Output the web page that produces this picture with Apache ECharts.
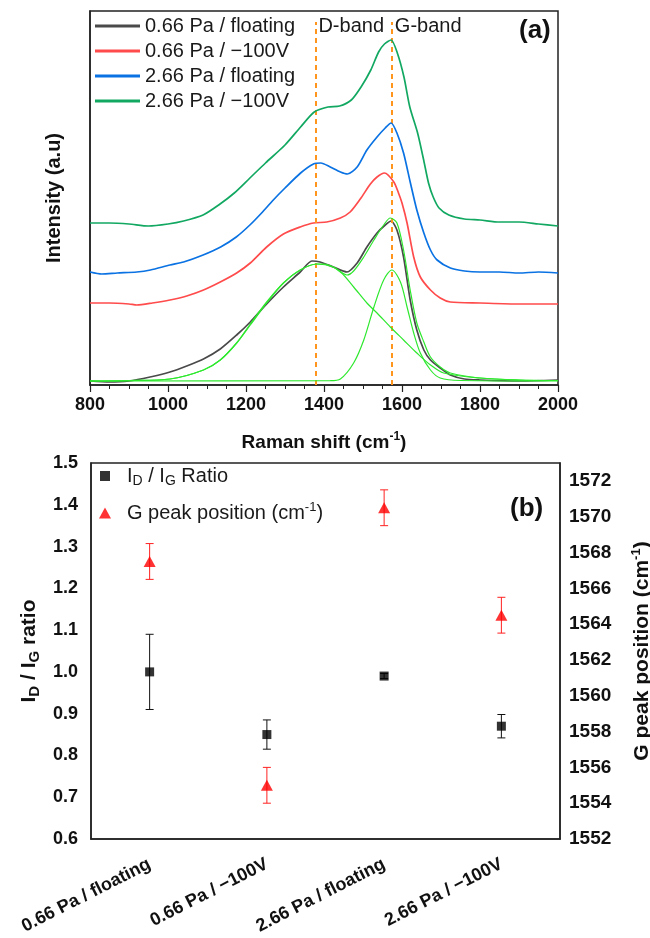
<!DOCTYPE html>
<html><head><meta charset="utf-8">
<script src="https://cdn.jsdelivr.net/npm/echarts@6/dist/echarts.min.js"></script>
<style>html,body{margin:0;padding:0;background:#fff}#c{width:650px;height:938px}</style>
</head><body><div id="c"></div>
<script>
// ---------- Panel (a): Raman spectra (offset, arbitrary units) ----------
const spectrumNames = ['0.66 Pa / floating', '0.66 Pa / \u2212100V', '2.66 Pa / floating', '2.66 Pa / \u2212100V'];
const black066Float = [[800,4],[850,3],[900,4],[954,8],[1005,13],[1048,19],[1091,26],[1134,36],[1176,50],[1211,63],[1253,81],[1296,98],[1339,113],[1369,124],[1390,123],[1424,118],[1459,113],[1485,122],[1510,138],[1536,152],[1557,160],[1572,164],[1587,155],[1604,128],[1621,85],[1638,55],[1656,35],[1673,25],[1698,17],[1724,10],[1760,6],[1800,5],[1900,4],[2000,5]];
const red066Bias = [[800,82],[850,82],[900,81],[920,80],[960,82],[1005,85],[1048,89],[1091,95],[1134,103],[1176,112],[1211,122],[1253,138],[1296,151],[1339,158],[1373,162],[1407,163],[1442,167],[1467,173],[1493,186],[1519,201],[1536,208],[1555,212],[1579,203],[1591,192],[1600,182],[1613,162],[1630,128],[1647,108],[1673,95],[1698,87],[1724,83],[1800,82],[1900,81],[2000,81]];
const blue266Float = [[800,113],[830,111],[870,112],[920,113],[955,115],[1005,120],[1040,123],[1090,130],[1135,138],[1175,148],[1210,160],[1240,172],[1270,185],[1300,197],[1340,212],[1373,221],[1392,222],[1416,218],[1442,213],[1460,211],[1485,218],[1510,235],[1536,248],[1557,257],[1572,262],[1587,252],[1604,232],[1621,203],[1638,175],[1656,152],[1673,135],[1690,125],[1724,117],[1760,114],[1800,113],[1850,113],[1900,112],[1950,113],[2000,112]];
const green266Bias = [[800,162],[850,162],[900,161],[950,159],[1000,161],[1040,164],[1090,170],[1130,180],[1170,192],[1210,207],[1250,222],[1300,240],[1340,258],[1375,273],[1410,278],[1440,279],[1470,285],[1495,298],[1520,315],[1540,333],[1555,341],[1572,345],[1588,332],[1605,308],[1620,278],[1640,252],[1655,226],[1668,202],[1680,188],[1695,177],[1720,170],[1760,166],[1800,165],[1850,163],[1900,163],[1950,161],[2000,159]];
const fitD = [[800,4],[900,4.5],[1005,6],[1091,15],[1134,25],[1176,42],[1211,60],[1253,82],[1296,102],[1339,115],[1382,121],[1400,121],[1442,113],[1476,98],[1510,82],[1536,72],[1570,58],[1604,45],[1638,32],[1673,20],[1707,12],[1800,7],[1900,5],[2000,4.5]];
const fitG = [[800,4],[1416,4.3],[1442,6],[1476,22],[1502,45],[1528,78],[1553,105],[1574,115],[1596,103],[1613,78],[1630,52],[1647,32],[1673,15],[1698,7],[1750,4.5],[2000,4]];
const fitSum = [[800,4],[900,4.5],[1005,6],[1091,15],[1134,25],[1176,42],[1211,61],[1253,83],[1296,102],[1339,115],[1382,121],[1424,118],[1459,110],[1476,114],[1502,128],[1528,145],[1553,160],[1570,167],[1587,162],[1604,135],[1621,95],[1638,62],[1656,43],[1673,28],[1698,18],[1724,12],[1800,7],[1900,5],[2000,4.5]];
const dBand = 1378;
const gBand = 1574;
const bandLineTop = 363;

// ---------- Panel (b) ----------
const categories = ['0.66 Pa / floating', '0.66 Pa / \u2212100V', '2.66 Pa / floating', '2.66 Pa / \u2212100V'];
const ratio = [1.00, 0.85, 0.99, 0.87];
const ratioErr = [0.09, 0.035, 0.006, 0.028];
const gPeak = [1567.5, 1555.0, 1570.5, 1564.5];
const gPeakErr = [1.0, 1.0, 1.0, 1.0];

const FONT = 'Liberation Sans, Arial, Helvetica, sans-serif';
const AX = '#222';

function errBar(color) {
  return function (params, api) {
    const x = api.value(0);
    const lo = api.coord([x, api.value(1)]);
    const hi = api.coord([x, api.value(2)]);
    const hw = 4;
    const st = { stroke: color, lineWidth: 1 };
    return { type: 'group', children: [
      { type: 'line', shape: { x1: lo[0], y1: lo[1], x2: hi[0], y2: hi[1] }, style: st },
      { type: 'line', shape: { x1: lo[0] - hw, y1: lo[1], x2: lo[0] + hw, y2: lo[1] }, style: st },
      { type: 'line', shape: { x1: hi[0] - hw, y1: hi[1], x2: hi[0] + hw, y2: hi[1] }, style: st }
    ]};
  };
}

const chart = echarts.init(document.getElementById('c'), null, { renderer: 'canvas' });
const specColors = ['#4a4a4a', '#ff4b4b', '#0a72e2', '#12a862'];
const specData = [black066Float, red066Bias, blue266Float, green266Bias];
const fitColor = '#2ee82e';

const series = [];
specData.forEach((d, i) => {
  series.push({ name: spectrumNames[i], type: 'line', xAxisIndex: 0, yAxisIndex: 0, data: d,
    symbol: 'none', showSymbol: false, smooth: 0.25, lineStyle: { color: specColors[i], width: 1.7 }, itemStyle: { color: specColors[i] }, z: 3 + i });
});
[fitD, fitG].forEach((d) => {
  series.push({ type: 'line', xAxisIndex: 0, yAxisIndex: 0, data: d, symbol: 'none', smooth: 0.3,
    lineStyle: { color: fitColor, width: 1.2 }, z: 8, silent: true });
});
series.push({ type: 'line', xAxisIndex: 0, yAxisIndex: 0, data: fitSum, symbol: 'none', smooth: 0.3,
  lineStyle: { color: fitColor, width: 1.2 }, z: 8, silent: true,
  markLine: { silent: true, symbol: 'none', label: { show: false },
    lineStyle: { color: '#ff951c', type: [5, 4], width: 2 },
    data: [[{ coord: [dBand, 0] }, { coord: [dBand, bandLineTop] }], [{ coord: [gBand, 0] }, { coord: [gBand, bandLineTop] }]] },
  markPoint: { silent: true, symbolSize: 0,
    label: { show: true, position: 'right', distance: 3, fontSize: 20, color: '#1a1a1a', fontFamily: FONT },
    data: [{ coord: [dBand, 359], value: 'D-band', label: { formatter: 'D-band' } },
           { coord: [gBand, 359], value: 'G-band', label: { formatter: 'G-band' } }] }
});
// panel b
series.push({ name: 'ratio', type: 'scatter', xAxisIndex: 1, yAxisIndex: 1, data: ratio, symbol: 'rect', symbolSize: 9,
  itemStyle: { color: '#000' }, z: 5 });
series.push({ name: 'gpeak', type: 'scatter', xAxisIndex: 1, yAxisIndex: 2, data: gPeak, symbol: 'triangle', symbolSize: [12, 11],
  itemStyle: { color: '#ff0000' }, z: 5 });
series.push({ type: 'custom', xAxisIndex: 1, yAxisIndex: 1, renderItem: errBar('#111'),
  data: ratio.map((v, i) => [i, v - ratioErr[i], v + ratioErr[i]]), encode: { x: 0, y: [1, 2] }, z: 4, silent: true });
series.push({ type: 'custom', xAxisIndex: 1, yAxisIndex: 2, renderItem: errBar('#ff2020'),
  data: gPeak.map((v, i) => [i, v - gPeakErr[i], v + gPeakErr[i]]), encode: { x: 0, y: [1, 2] }, z: 4, silent: true });

const richBase = {
  n: { fontSize: 20, lineHeight: 24, verticalAlign: 'middle', color: '#1a1a1a', fontFamily: FONT },
  s: { fontSize: 14, lineHeight: 14, verticalAlign: 'bottom', color: '#1a1a1a', fontFamily: FONT },
  p: { fontSize: 13, lineHeight: 13, verticalAlign: 'top', color: '#1a1a1a', fontFamily: FONT }
};
function boldRich(size, subSize) {
  return {
    n: { fontSize: size, fontWeight: 'bold', lineHeight: size + 4, verticalAlign: 'middle', color: '#111', fontFamily: FONT },
    s: { fontSize: subSize, fontWeight: 'bold', lineHeight: subSize, verticalAlign: 'bottom', color: '#111', fontFamily: FONT },
    p: { fontSize: subSize, fontWeight: 'bold', lineHeight: subSize, verticalAlign: 'top', color: '#111', fontFamily: FONT }
  };
}
const plain = v => String(Math.round(v * 100) / 100);

const option = {
  animation: false,
  backgroundColor: '#fff',
  textStyle: { fontFamily: FONT },
  grid: [
    { left: 90, top: 11, width: 468, height: 374, show: true, borderColor: AX, borderWidth: 1.5, outerBoundsMode: 'none', containLabel: false },
    { left: 91, top: 463, width: 469, height: 376, show: true, borderColor: AX, borderWidth: 1.5, outerBoundsMode: 'none', containLabel: false }
  ],
  xAxis: [
    { type: 'value', gridIndex: 0, min: 800, max: 2000, interval: 200,
      axisLine: { show: true, lineStyle: { color: AX, width: 1.5 } },
      axisTick: { show: true, inside: false, length: 7, lineStyle: { color: AX, width: 1.2 } },
      minorTick: { show: true, splitNumber: 4, length: 4, lineStyle: { color: AX, width: 1 } },
      splitLine: { show: false }, minorSplitLine: { show: false },
      axisLabel: { fontSize: 18, fontWeight: 'bold', color: '#111', margin: 11, fontFamily: FONT, formatter: plain },
      name: '{n|Raman shift (cm}{p|-1}{n|)}', nameLocation: 'middle', nameGap: 46,
      nameTextStyle: { rich: boldRich(19, 12) } },
    { type: 'category', gridIndex: 1, data: categories, boundaryGap: true,
      axisLine: { show: true, lineStyle: { color: AX, width: 1.5 } }, axisTick: { show: false },
      splitLine: { show: false },
      axisLabel: { rotate: 27, interval: 0, fontSize: 18, fontWeight: 'bold', color: '#111', margin: 24, fontFamily: FONT } }
  ],
  yAxis: [
    { type: 'value', gridIndex: 0, min: 0, max: 374, axisLabel: { show: false }, axisTick: { show: false },
      splitLine: { show: false }, axisLine: { show: true, lineStyle: { color: AX, width: 1.5 } },
      name: 'Intensity (a.u)', nameLocation: 'middle', nameGap: 26, nameRotate: 90,
      nameTextStyle: { fontSize: 20, fontWeight: 'bold', color: '#111', fontFamily: FONT } },
    { type: 'value', gridIndex: 1, position: 'left', min: 0.6, max: 1.5, interval: 0.1,
      axisLine: { show: true, lineStyle: { color: AX, width: 1.5 } }, axisTick: { show: false }, splitLine: { show: false },
      axisLabel: { fontSize: 18, fontWeight: 'bold', color: '#111', margin: 13, fontFamily: FONT, formatter: v => v.toFixed(1) },
      name: '{n|I}{s|D}{n| / I}{s|G}{n| ratio}', nameLocation: 'middle', nameGap: 48, nameRotate: 90,
      nameTextStyle: { rich: boldRich(21, 15) } },
    { type: 'value', gridIndex: 1, position: 'right', min: 1552, max: 1573, interval: 2,
      axisLine: { show: true, lineStyle: { color: AX, width: 1.5 } }, axisTick: { show: false }, splitLine: { show: false },
      axisLabel: { fontSize: 19, fontWeight: 'bold', color: '#111', margin: 9, fontFamily: FONT, showMaxLabel: false, formatter: plain },
      name: '{n|G peak position (cm}{p|-1}{n|)}', nameLocation: 'middle', nameGap: 70, nameRotate: 90,
      nameTextStyle: { rich: boldRich(21, 13) } }
  ],
  legend: [
    { left: 95, top: 16, orient: 'vertical', padding: 0, itemWidth: 45, itemHeight: 3, itemGap: 5, icon: 'rect',
      data: spectrumNames, selectedMode: false,
      textStyle: { fontSize: 20, color: '#1a1a1a', fontFamily: FONT, lineHeight: 20 } },
    { left: 100, top: 466, orient: 'vertical', padding: 0, itemWidth: 10, itemHeight: 10, data: ['ratio'], selectedMode: false,
      formatter: () => '{n|I}{s|D}{n| / I}{s|G}{n| Ratio}',
      textStyle: { padding: [0, 0, 0, 12], rich: richBase } },
    { left: 99, top: 501, orient: 'vertical', padding: 0, itemWidth: 12, itemHeight: 11, data: ['gpeak'], selectedMode: false,
      formatter: () => '{n|G peak position (cm}{p|-1}{n|)}',
      textStyle: { padding: [0, 0, 0, 11], rich: richBase } }
  ],
  graphic: [
    { type: 'text', left: 519, top: 18, style: { text: '(a)', font: 'bold 26px ' + FONT, fill: '#111' } },
    { type: 'text', left: 510, top: 496, style: { text: '(b)', font: 'bold 26px ' + FONT, fill: '#111' } }
  ],
  series: series
};
chart.setOption(option);
</script>
</body></html>
